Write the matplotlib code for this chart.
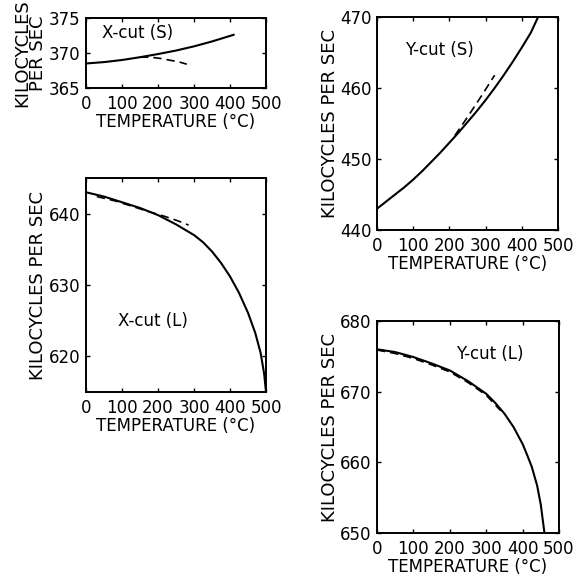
import matplotlib
matplotlib.use("Agg")
import matplotlib.pyplot as plt

plt.rcParams['font.family'] = ['DejaVu Sans']

# X-cut (S)
xs_solid_t = [0, 50, 100, 150, 200, 250, 300, 350, 410]
xs_solid_f = [368.5, 368.7, 369.0, 369.4, 369.85, 370.35, 370.95, 371.65, 372.6]
xs_dash_t = [150, 180, 210, 240, 260, 280]
xs_dash_f = [369.4, 369.4, 369.2, 368.9, 368.7, 368.4]

# Y-cut (S)
ys_solid_t = [0, 25, 50, 75, 100, 125, 150, 175, 200, 225, 250, 275, 300,
              325, 350, 375, 400, 425, 445]
ys_solid_f = [443.0, 444.0, 445.0, 446.0, 447.1, 448.3, 449.6, 450.9, 452.3,
              453.7, 455.2, 456.7, 458.3, 460.0, 461.8, 463.7, 465.7, 467.8, 470.0]
ys_dash_t = [215, 250, 290, 325]
ys_dash_f = [453.3, 455.9, 459.0, 461.8]

# X-cut (L)
xl_solid_t = [0, 50, 100, 150, 200, 250, 300, 325, 350, 375, 400, 425, 450,
              470, 485, 495, 500]
xl_solid_f = [643.0, 642.4, 641.6, 640.8, 639.8, 638.5, 637.0, 636.0, 634.7,
              633.1, 631.2, 628.9, 626.1, 623.3, 620.5, 617.5, 615.0]
xl_dash_t = [30, 80, 130, 180, 220, 255, 285]
xl_dash_f = [642.4, 641.8, 641.0, 640.2, 639.6, 639.0, 638.4]

# Y-cut (L)
yl_solid_t = [0, 50, 100, 150, 200, 250, 300, 325, 350, 375, 400, 412, 425,
              440, 450, 460]
yl_solid_f = [676.0, 675.6, 674.9, 674.0, 673.0, 671.5, 669.7, 668.4, 666.9,
              665.0, 662.6, 661.1, 659.4, 656.7, 654.0, 650.0]
yl_dash_t = [0, 50, 100, 150, 200, 250, 300, 340]
yl_dash_f = [675.9, 675.4, 674.7, 673.8, 672.8, 671.3, 669.5, 667.3]

fig = plt.figure(figsize=(5.77, 5.79), dpi=100)
W, H = 577.0, 579.0


def make_ax(x0, y0, x1, y1):
    return fig.add_axes([x0 / W, 1 - y1 / H, (x1 - x0) / W, (y1 - y0) / H])


def style(ax, ylim, yticks, ylabel, label, lx, ly):
    ax.set_xlim(0, 500)
    ax.set_ylim(*ylim)
    ax.set_xticks([0, 100, 200, 300, 400, 500])
    ax.set_yticks(yticks)
    ax.tick_params(direction='in', top=True, right=True, length=3, width=1,
                   labelsize=12)
    ax.tick_params(axis='x', pad=5)
    ax.tick_params(axis='y', pad=4)
    for s in ax.spines.values():
        s.set_linewidth(1.4)
    ax.set_xlabel('TEMPERATURE (°C)', fontsize=12, labelpad=0)
    ax.set_ylabel(ylabel, fontsize=13, labelpad=1, linespacing=0.85)
    ax.text(lx, ly, label, fontsize=12, va='center', ha='left')


ax1 = make_ax(86, 18, 266, 88)
ax1.plot(xs_solid_t, xs_solid_f, 'k-', lw=1.5)
ax1.plot(xs_dash_t, xs_dash_f, 'k--', lw=1.2, dashes=(5, 3))
style(ax1, (365, 375), [365, 370, 375], 'KILOCYCLES\nPER SEC', 'X-cut (S)', 45, 372.8)

ax2 = make_ax(377, 17, 558, 230)
ax2.plot(ys_solid_t, ys_solid_f, 'k-', lw=1.5)
ax2.plot(ys_dash_t, ys_dash_f, 'k--', lw=1.2, dashes=(5, 3))
style(ax2, (440, 470), [440, 450, 460, 470], 'KILOCYCLES PER SEC', 'Y-cut (S)', 78, 465.4)

ax3 = make_ax(86, 178, 266, 392)
ax3.plot(xl_solid_t, xl_solid_f, 'k-', lw=1.5)
ax3.plot(xl_dash_t, xl_dash_f, 'k--', lw=1.2, dashes=(5, 3))
style(ax3, (615, 645), [620, 630, 640], 'KILOCYCLES PER SEC', 'X-cut (L)', 89, 624.9)

ax4 = make_ax(377, 321, 559, 533)
ax4.plot(yl_solid_t, yl_solid_f, 'k-', lw=1.5)
ax4.plot(yl_dash_t, yl_dash_f, 'k--', lw=1.2, dashes=(5, 3))
style(ax4, (650, 680), [650, 660, 670, 680], 'KILOCYCLES PER SEC', 'Y-cut (L)', 217, 675.4)

fig.savefig('out.png', dpi=100)
